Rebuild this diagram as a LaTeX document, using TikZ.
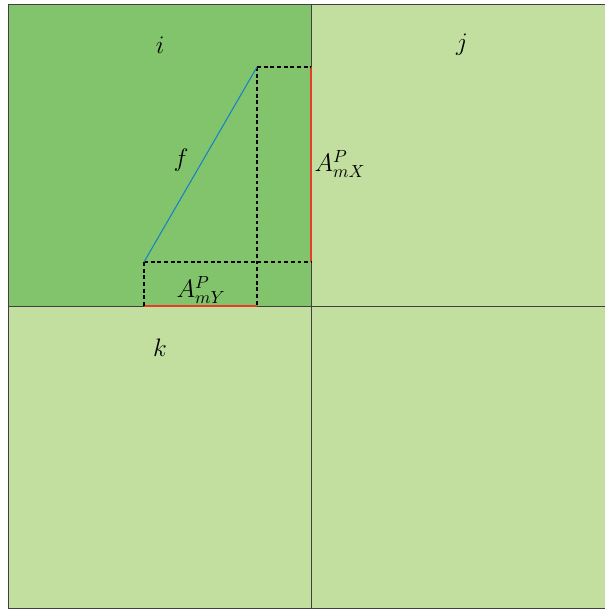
\documentclass[tikz,border=0pt]{standalone}
\definecolor{cellDark}{RGB}{130,196,108}
\definecolor{cellLight}{RGB}{194,223,160}
\definecolor{edgeRed}{RGB}{230,60,40}
\definecolor{lineBlue}{RGB}{20,130,200}
\begin{document}
\begin{tikzpicture}[x=0.02cm,y=-0.02cm,
  cellbox/.style={draw=black!75,line width=0.5pt},
  guide/.style={dashed,line width=0.9pt,dash pattern=on 2.2pt off 1.6pt},
  lbl/.style={font=\Large,inner sep=0pt}]
\useasboundingbox (0,0) rectangle (605,610);
% cells
\fill[cellLight] (8,4) rectangle (605,608);
\fill[cellDark] (8,4) rectangle (311,306);
\draw[cellbox] (8,608) -- (8,4) -- (605,4);
\draw[cellbox] (8,608) -- (605,608);
\draw[cellbox] (311,4) -- (311,608);
\draw[cellbox] (8,306) -- (605,306);
% points
\coordinate (base) at (144,262);
\coordinate (apex) at (257,67);
\coordinate (apexR) at (311,67);
\coordinate (baseR) at (311,262);
\coordinate (footL) at (144,306);
\coordinate (footR) at (257,306);
% projections
\draw[edgeRed,line width=0.9pt] (footL) -- (footR);
\draw[edgeRed,line width=0.9pt] (apexR) -- (baseR);
\draw[guide] (apex) -- (apexR);
\draw[guide] (apex) -- (footR);
\draw[guide] (base) -- (baseR);
\draw[guide] (base) -- (footL);
\draw[lineBlue,line width=0.6pt] (base) -- (apex);
% labels
\node[lbl] (ti) at (160,45) {$i$};
\node[lbl] (tj) at (462,45) {$j$};
\node[lbl] (tk) at (160,348) {$k$};
\node[lbl] (tf) at (181,160) {$f$};
\node[lbl] (amx) at (340,164) {$A^{P}_{mX}$};
\node[lbl] (amy) at (201,290) {$A^{P}_{mY}$};
\end{tikzpicture}
\end{document}
